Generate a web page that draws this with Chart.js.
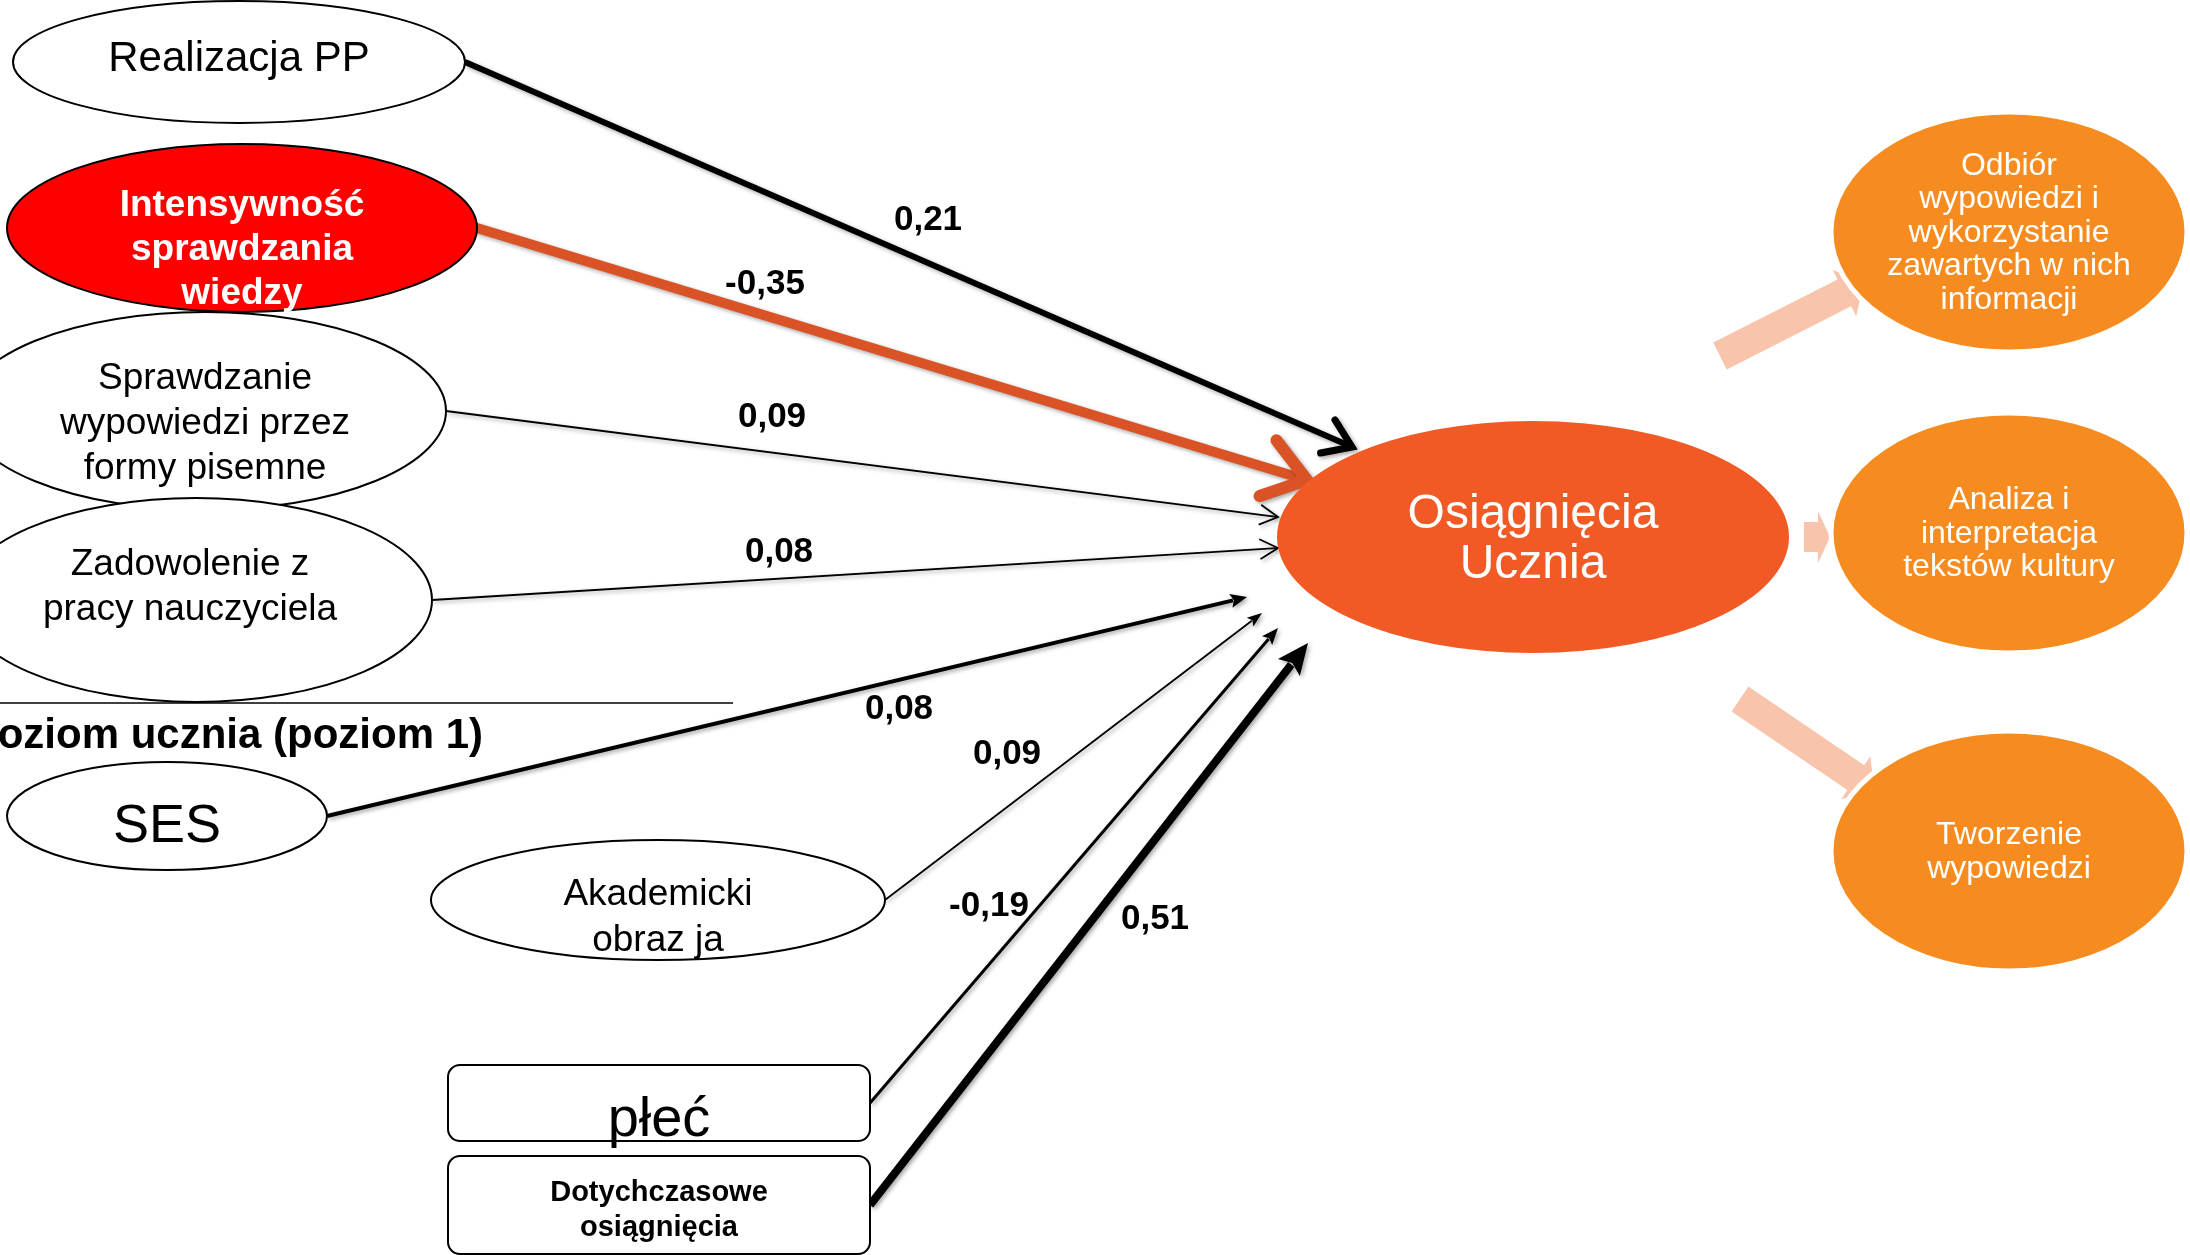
<!DOCTYPE html>
<html lang="pl">
<head>
<meta charset="utf-8">
<title>Osiągnięcia Ucznia</title>
<script src="https://cdn.jsdelivr.net/npm/chart.js@4.4.1/dist/chart.umd.min.js"></script>
<style>
  html, body { margin: 0; padding: 0; background: #fff; }
  #wrap { width: 2190px; height: 1255px; position: relative; }
</style>
</head>
<body>
<div id="wrap"><canvas id="canvas"></canvas></div>
<script>
// predyktory (lewa strona)
const nodeLabels = [
  ['Realizacja PP'],
  ['Intensywność', 'sprawdzania', 'wiedzy'],
  ['Sprawdzanie', 'wypowiedzi przez', 'formy pisemne'],
  ['Zadowolenie z', 'pracy nauczyciela'],
  ['SES'],
  ['Akademicki', 'obraz ja'],
  ['płeć'],
  ['Dotychczasowe', 'osiągnięcia']
];
const nodeX = [239, 242, 205, 196, 167, 658, 659, 659];
const nodeY = [62, 228, 411, 600, 816, 900, 1103, 1205];

// zmienna zależna
const targetLabel = ['Osiągnięcia', 'Ucznia'];
const targetX = [1533];
const targetY = [537];

// współczynniki ścieżek
const pathCoefs = ['0,21', '-0,35', '0,09', '0,08', '0,08', '0,09', '-0,19', '0,51'];
const coefX = [928, 765, 772, 779, 899, 1007, 989, 1155];
const coefY = [218, 282, 415, 550, 707, 752, 904, 917];
const tipX = [1352, 1307, 1278, 1278, 1247, 1262, 1278, 1308];
const tipY = [447, 480, 517, 548, 597, 613, 628, 643];

// wymiary wyniku
const outcomeLabels = [
  ['Odbiór', 'wypowiedzi i', 'wykorzystanie', 'zawartych w nich', 'informacji'],
  ['Analiza i', 'interpretacja', 'tekstów kultury'],
  ['Tworzenie', 'wypowiedzi']
];
const outcomeX = [2009, 2009, 2009];
const outcomeY = [232, 533, 851];

const levelLabel = 'poziom ucznia (poziom 1)';

// --- wygląd ---
const FONT = "'Liberation Sans', Arial, sans-serif";
const nodeStyle = [
  { shape: 'ellipse', rx: 226, ry: 61,  fill: '#fff', color: '#000', font: '42px', dy: -3, lh: 44 },
  { shape: 'ellipse', rx: 235, ry: 84,  fill: '#ff0000', color: '#fff', font: 'bold 37px', dy: 22, lh: 44 },
  { shape: 'ellipse', rx: 241, ry: 99,  fill: '#fff', color: '#000', font: '37px', dy: 13, lh: 45 },
  { shape: 'ellipse', rx: 236, ry: 102, fill: '#fff', color: '#000', font: '37px', dy: -13, lh: 45, dx: -6 },
  { shape: 'ellipse', rx: 160, ry: 54,  fill: '#fff', color: '#000', font: '54px', dy: 11, lh: 54 },
  { shape: 'ellipse', rx: 227, ry: 60,  fill: '#fff', color: '#000', font: '37px', dy: 18, lh: 46 },
  { shape: 'rect', w: 422, h: 76, fill: '#fff', color: '#000', font: '56px', dy: 18, lh: 56 },
  { shape: 'rect', w: 422, h: 98, fill: '#fff', color: '#000', font: 'bold 29px', dy: 5, lh: 35 }
];
const edgeStyle = [
  { color: '#000', width: 6,   head: 'open',   len: 32, ang: 0.6, hw: 7 },
  { color: '#da5326', width: 10, head: 'open', len: 50, ang: 0.62, hw: 12 },
  { color: '#000', width: 1.8, head: 'open',   len: 20, ang: 0.5, hw: 1.8 },
  { color: '#000', width: 1.8, head: 'open',   len: 20, ang: 0.5, hw: 1.8 },
  { color: '#000', width: 4,   head: 'filled', len: 18, ang: 0.4 },
  { color: '#000', width: 1.8, head: 'filled', len: 16, ang: 0.35 },
  { color: '#000', width: 3,   head: 'filled', len: 18, ang: 0.38 },
  { color: '#000', width: 8,   head: 'filled', len: 34, ang: 0.42 }
];
const peach = '#f8c5ac';
const peachArrows = [
  { from: [1720, 356], to: [1864, 283] },
  { from: [1804, 537], to: [1830, 537] },
  { from: [1740, 699], to: [1874, 790] }
];

let ctx = document.getElementById('canvas').getContext('2d');

const diagramPlugin = {
  id: 'diagram',
  afterDatasetsDraw(chart) {
    const c = chart.ctx;
    const xs = chart.scales.x, ys = chart.scales.y;
    const px = v => xs.getPixelForValue(v);
    const py = v => ys.getPixelForValue(v);
    const sx = d => px(d) - px(0);
    const sy = d => py(d) - py(0);
    const nodes = chart.getDatasetMeta(0).data;
    const target = chart.getDatasetMeta(1).data[0];
    const outs = chart.getDatasetMeta(2).data;

    function text(lines, x, y, font, color, lh) {
      c.save();
      c.font = font + ' ' + FONT;
      c.fillStyle = color;
      c.textAlign = 'center';
      c.textBaseline = 'middle';
      const top = y - (lines.length - 1) * lh / 2;
      lines.forEach((l, i) => c.fillText(l, x, top + i * lh));
      c.restore();
    }

    // strzałki do wymiarów (jasne)
    c.save();
    c.fillStyle = peach;
    peachArrows.forEach(a => {
      const x1 = px(a.from[0]), y1 = py(a.from[1]);
      const x2 = px(a.to[0]), y2 = py(a.to[1]);
      const ang = Math.atan2(y2 - y1, x2 - x1);
      const L = Math.hypot(x2 - x1, y2 - y1);
      const short = L < 40;
      const hl = short ? 12 : 22, sw = 15, hw = 26;
      c.save();
      c.translate(x1, y1);
      c.rotate(ang);
      c.beginPath();
      c.moveTo(0, -sw);
      c.lineTo(L - hl, -sw);
      c.lineTo(L - hl, -hw);
      c.lineTo(L, 0);
      c.lineTo(L - hl, hw);
      c.lineTo(L - hl, sw);
      c.lineTo(0, sw);
      c.closePath();
      c.fill();
      c.restore();
    });
    c.restore();

    // linia poziomu
    c.save();
    c.strokeStyle = '#000';
    c.lineWidth = 1.5;
    c.beginPath();
    c.moveTo(px(0), py(703));
    c.lineTo(px(733), py(703));
    c.stroke();
    c.restore();
    c.save();
    c.font = 'bold 42px ' + FONT;
    c.fillStyle = '#000';
    c.textAlign = 'right';
    c.textBaseline = 'middle';
    c.fillText(levelLabel, px(483), py(736));
    c.restore();

    // ścieżki
    nodes.forEach((n, i) => {
      const st = nodeStyle[i], es = edgeStyle[i];
      const x1 = n.x + (st.shape === 'rect' ? sx(st.w / 2) : sx(st.rx));
      const y1 = n.y;
      const x2 = px(tipX[i]), y2 = py(tipY[i]);
      const ang = Math.atan2(y2 - y1, x2 - x1);
      c.save();
      c.shadowColor = 'rgba(0,0,0,0.35)';
      c.shadowBlur = 4;
      c.shadowOffsetX = 2;
      c.shadowOffsetY = 2;
      c.strokeStyle = es.color;
      c.fillStyle = es.color;
      c.lineWidth = es.width;
      c.lineCap = i === 1 ? 'round' : 'butt';
      const back = es.head === 'filled' ? es.len * 0.8 : es.width * 0.8;
      c.beginPath();
      c.moveTo(x1, y1);
      c.lineTo(x2 - back * Math.cos(ang), y2 - back * Math.sin(ang));
      c.stroke();
      if (es.head === 'open') {
        c.lineWidth = es.hw;
        c.lineCap = 'round';
        c.lineJoin = 'miter';
        c.beginPath();
        c.moveTo(x2 - es.len * Math.cos(ang - es.ang), y2 - es.len * Math.sin(ang - es.ang));
        c.lineTo(x2, y2);
        c.lineTo(x2 - es.len * Math.cos(ang + es.ang), y2 - es.len * Math.sin(ang + es.ang));
        c.stroke();
      } else {
        c.beginPath();
        c.moveTo(x2, y2);
        c.lineTo(x2 - es.len * Math.cos(ang - es.ang), y2 - es.len * Math.sin(ang - es.ang));
        c.lineTo(x2 - es.len * 0.75 * Math.cos(ang), y2 - es.len * 0.75 * Math.sin(ang));
        c.lineTo(x2 - es.len * Math.cos(ang + es.ang), y2 - es.len * Math.sin(ang + es.ang));
        c.closePath();
        c.fill();
      }
      c.restore();
    });

    // węzły
    const order = [2, 3, 0, 1, 4, 5, 6, 7];
    order.forEach(i => {
      const n = nodes[i], st = nodeStyle[i];
      c.save();
      c.fillStyle = st.fill;
      c.strokeStyle = '#000';
      c.lineWidth = 2;
      c.beginPath();
      if (st.shape === 'rect') {
        c.roundRect(n.x - sx(st.w / 2), n.y - sy(st.h / 2), sx(st.w), sy(st.h), 12);
      } else {
        c.ellipse(n.x, n.y, sx(st.rx), sy(st.ry), 0, 0, Math.PI * 2);
      }
      c.fill();
      c.stroke();
      c.restore();
    });
    nodes.forEach((n, i) => {
      const st = nodeStyle[i];
      text(nodeLabels[i], n.x + sx(st.dx || 0), n.y + sy(st.dy), st.font, st.color, st.lh);
    });

    // osiągnięcia ucznia
    c.save();
    c.fillStyle = '#f15a24';
    c.beginPath();
    c.ellipse(target.x, target.y, sx(256), sy(116), 0, 0, Math.PI * 2);
    c.fill();
    c.restore();
    text(targetLabel, target.x, target.y + sy(3), '48px', '#fff', 50);

    outs.forEach((o, i) => {
      c.save();
      c.fillStyle = '#f68b1f';
      c.strokeStyle = '#fff';
      c.lineWidth = 5;
      c.beginPath();
      c.ellipse(o.x, o.y, sx(178), sy(120), 0, 0, Math.PI * 2);
      c.fill();
      c.stroke();
      c.restore();
      text(outcomeLabels[i], o.x, o.y + sy(1), '32px', '#fff', 33.5);
    });

    // współczynniki
    pathCoefs.forEach((t, i) => {
      text([t], px(coefX[i]), py(coefY[i] + 2), 'bold 35px', '#000', 35);
    });
  }
};

let myChart = new Chart(ctx, {
  type: 'scatter',
  data: {
    datasets: [
      { label: 'predyktory', data: nodeX.map((x, i) => ({ x: x, y: nodeY[i] })), pointRadius: 0 },
      { label: 'wynik', data: targetX.map((x, i) => ({ x: x, y: targetY[i] })), pointRadius: 0 },
      { label: 'wymiary', data: outcomeX.map((x, i) => ({ x: x, y: outcomeY[i] })), pointRadius: 0 }
    ]
  },
  options: {
    responsive: true,
    maintainAspectRatio: false,
    animation: false,
    layout: { padding: 0 },
    plugins: { legend: { display: false }, tooltip: { enabled: false } },
    scales: {
      x: { type: 'linear', display: false, min: 0, max: 2190 },
      y: { type: 'linear', display: false, min: 0, max: 1255, reverse: true }
    }
  },
  plugins: [diagramPlugin]
});
</script>
</body>
</html>
